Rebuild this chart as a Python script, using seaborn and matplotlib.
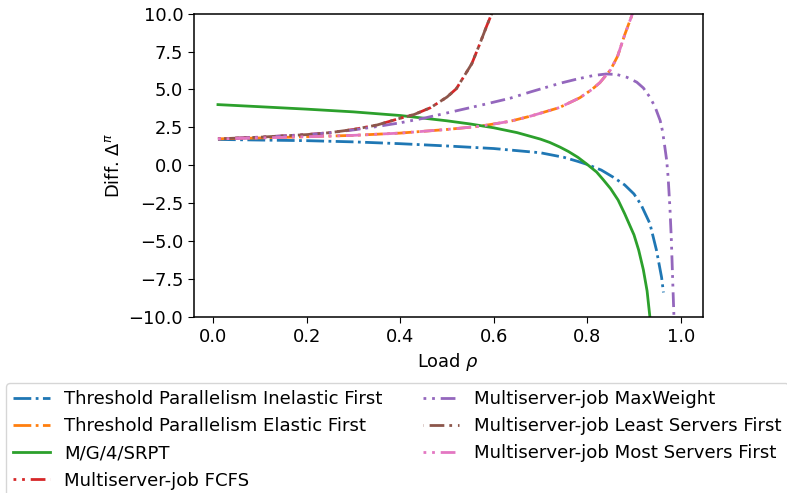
import matplotlib
matplotlib.use("Agg")
import matplotlib.pyplot as plt
import seaborn as sns

# ---------------- data ----------------
rho_tp_inel = [0.01, 0.1, 0.2, 0.3, 0.4, 0.5, 0.6, 0.7, 0.75, 0.78, 0.8, 0.83, 0.856, 0.88, 0.9, 0.915,
               0.934, 0.948, 0.959, 0.963]
diff_tp_inel = [1.70, 1.66, 1.62, 1.54, 1.42, 1.27, 1.10, 0.82, 0.52, 0.25, 0.05, -0.32, -0.8, -1.3, -1.9, -2.6,
                -3.85, -5.6, -7.4, -8.4]

rho_tp_el = [0.01, 0.1, 0.2, 0.3, 0.4, 0.5, 0.57, 0.635, 0.68, 0.74, 0.784, 0.81, 0.827, 0.85, 0.865, 0.88,
             0.898, 0.91]
diff_tp_el = [1.74, 1.80, 1.88, 1.97, 2.12, 2.36, 2.57, 2.90, 3.25, 3.80, 4.45, 5.0, 5.45, 6.30, 7.20, 8.60,
              10.1, 11.5]

rho_srpt = [0.01, 0.1, 0.2, 0.3, 0.4, 0.5, 0.55, 0.6, 0.65, 0.7, 0.72, 0.742, 0.76, 0.78, 0.8, 0.82, 0.834,
            0.85, 0.866, 0.88, 0.9, 0.91, 0.92, 0.928, 0.935]
diff_srpt = [4.0, 3.86, 3.70, 3.52, 3.28, 2.93, 2.72, 2.47, 2.15, 1.72, 1.50, 1.19, 0.90, 0.52, 0.05, -0.45,
             -0.95, -1.55, -2.3, -3.2, -4.6, -5.6, -6.9, -8.3, -10.3]

rho_fcfs = [0.01, 0.1, 0.2, 0.25, 0.3, 0.35, 0.4, 0.43, 0.465, 0.5, 0.52, 0.535, 0.553, 0.57, 0.585, 0.597, 0.61]
diff_fcfs = [1.74, 1.85, 2.02, 2.15, 2.36, 2.65, 3.10, 3.35, 3.80, 4.50, 5.05, 5.80, 6.70, 8.00, 9.20, 10.1, 11.3]

rho_mw = [0.01, 0.1, 0.2, 0.25, 0.3, 0.35, 0.4, 0.45, 0.5, 0.571, 0.635, 0.68, 0.742, 0.78, 0.813, 0.84, 0.863,
          0.885, 0.906, 0.92, 0.934, 0.945, 0.956, 0.961, 0.966, 0.97, 0.973, 0.977, 0.98, 0.983, 0.986, 0.99]
diff_mw = [1.74, 1.85, 2.02, 2.15, 2.33, 2.55, 2.80, 3.10, 3.45, 3.95, 4.42, 4.85, 5.41, 5.70, 5.92, 6.02, 5.99,
           5.80, 5.48, 5.10, 4.49, 3.85, 2.95, 2.25, 1.19, 0.30, -0.79, -2.9, -5.0, -7.8, -10.5, -20.0]

rho_lsf = [0.01, 0.1, 0.2, 0.25, 0.3, 0.35, 0.4, 0.43, 0.465, 0.5, 0.52, 0.535, 0.553, 0.57, 0.585, 0.597, 0.61]
diff_lsf = [1.74, 1.85, 2.02, 2.15, 2.36, 2.65, 3.10, 3.35, 3.80, 4.50, 5.05, 5.80, 6.70, 8.00, 9.20, 10.1, 11.3]

rho_msf = [0.01, 0.1, 0.2, 0.3, 0.4, 0.5, 0.57, 0.635, 0.68, 0.74, 0.784, 0.81, 0.827, 0.85, 0.865, 0.88,
           0.898, 0.91]
diff_msf = [1.74, 1.80, 1.88, 1.97, 2.12, 2.36, 2.57, 2.90, 3.25, 3.80, 4.45, 5.0, 5.45, 6.30, 7.20, 8.60,
            10.1, 11.5]

labels = [
    "Threshold Parallelism Inelastic First",
    "Threshold Parallelism Elastic First",
    "M/G/4/SRPT",
    "Multiserver-job FCFS",
    "Multiserver-job MaxWeight",
    "Multiserver-job Least Servers First",
    "Multiserver-job Most Servers First",
]
x_ticks = [0.0, 0.2, 0.4, 0.6, 0.8, 1.0]
y_ticks = [-10.0, -7.5, -5.0, -2.5, 0.0, 2.5, 5.0, 7.5, 10.0]

# ---------------- style ----------------
plt.rcParams["font.family"] = ["DejaVu Sans"]
plt.rcParams["font.size"] = 12.9
plt.rcParams["mathtext.fontset"] = "dejavusans"
LW = 2.0
plt.rcParams["xtick.major.size"] = 4.4
plt.rcParams["ytick.major.size"] = 4.4
plt.rcParams["axes.linewidth"] = 1.1

pal = sns.color_palette("tab10")
dashdot = (0, (6.4, 1.6, 1.0, 1.6))
dotdash = (0, (1.0, 2.1, 1.0, 2.1, 5.3, 1.8))
dotdash_b = (4.0, (1.0, 2.1, 1.0, 2.1, 5.3, 1.8))

series = [
    (rho_tp_inel, diff_tp_inel, pal[0], dashdot),
    (rho_tp_el, diff_tp_el, pal[1], dashdot),
    (rho_srpt, diff_srpt, pal[2], "-"),
    (rho_fcfs, diff_fcfs, pal[3], dotdash),
    (rho_mw, diff_mw, pal[4], dotdash),
    (rho_lsf, diff_lsf, pal[5], dotdash_b),
    (rho_msf, diff_msf, pal[6], dotdash),
]

fig = plt.figure(figsize=(7.87, 4.93), dpi=100)
ax = fig.add_axes([0.2469, 0.3576, 0.6460, 0.6146])

for (x, y, c, ls), lab in zip(series, labels):
    sns.lineplot(x=x, y=y, ax=ax, color=c, linestyle=ls, linewidth=LW, label=lab, legend=False)

ax.set_xlim(-0.0406, 1.047)
ax.set_ylim(-10, 10)
ax.set_xticks(x_ticks)
ax.set_yticks(y_ticks)
ax.set_xlabel(r"Load $\rho$")
ax.set_ylabel(r"Diff. $\Delta^{\pi}$")

handles, labs = ax.get_legend_handles_labels()
fig.legend(handles, labs, loc="upper left", ncol=2, fontsize=13.1, columnspacing=2.2,
           bbox_to_anchor=(6 / 787, 1 - 383 / 493), bbox_transform=fig.transFigure,
           borderaxespad=0, frameon=True)

fig.savefig("out.png", dpi=100)
